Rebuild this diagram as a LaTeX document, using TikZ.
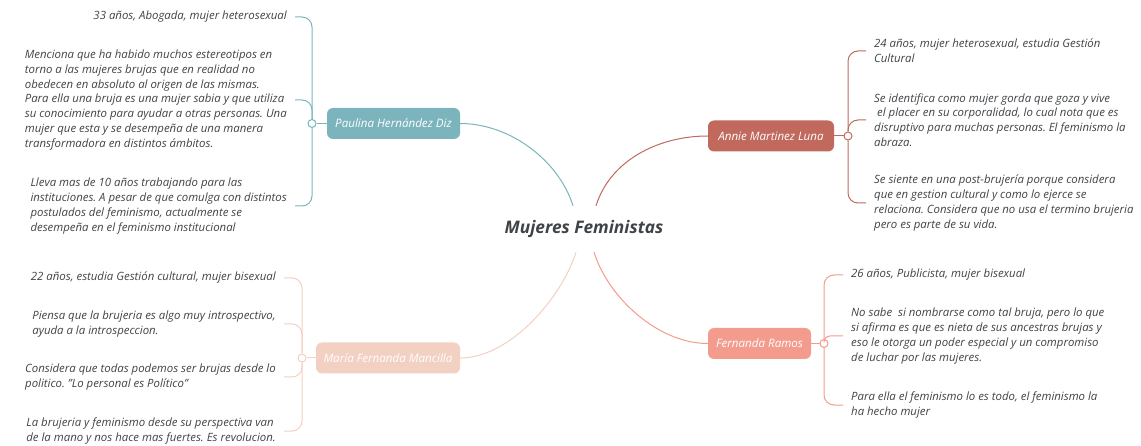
\documentclass[tikz,border=0pt]{standalone}
\usepackage{fontspec}
\setmainfont{Open Sans}
\definecolor{tealtopic}{HTML}{7BB4BD}
\definecolor{bricktopic}{HTML}{C0695C}
\definecolor{peachtopic}{HTML}{F2D0C2}
\definecolor{salmontopic}{HTML}{F39B8C}
\definecolor{ink}{HTML}{3F4347}
\frenchspacing

\begin{document}
\begin{tikzpicture}[x=1pt,y=-1pt,
        topic/.style={rounded corners=6pt, minimum height=31pt, text=white, inner xsep=6pt, font=\itshape\fontsize{11.6}{13}\selectfont},
        knob/.style={circle, draw, fill=white, line width=1pt, inner sep=0pt, minimum size=8pt},
        note/.style={align=left, text=ink, inner xsep=8pt, inner ysep=0pt, font=\itshape\fontsize{11.4}{14.8}\selectfont},
        branch/.style={line width=1pt, rounded corners=10pt}]
            \useasboundingbox (0,0) rectangle (1141,446);

            \node[text=ink, minimum height=46pt, font=\bfseries\itshape\fontsize{17.3}{20}\selectfont] (hub) at (584, 229) {Mujeres Feministas};

            % topics
            \node[topic, fill=tealtopic, minimum width=133pt] (t1) at (393.5, 123.5) {Paulina Hernández Diz};
            \node[topic, fill=peachtopic, minimum width=144pt] (t2) at (388, 358) {María Fernanda Mancilla};
            \node[topic, fill=bricktopic, minimum width=126pt] (t3) at (771, 136) {Annie Martinez Luna};
            \node[topic, fill=salmontopic, minimum width=103pt] (t4) at (759.5, 343.5) {Fernanda Ramos};

            \node[knob, draw=tealtopic] (k1) at (312, 123.5) {};
            \node[knob, draw=peachtopic] (k2) at (302, 358) {};
            \node[knob, draw=bricktopic] (k3) at (848, 136) {};
            \node[knob, draw=salmontopic] (k4) at (824, 343.5) {};

            % notes
            \node[note, anchor=east] (n11) at (295, 17) {33 años, Abogada, mujer heterosexual};
            \node[note, anchor=east] (n12) at (295, 100) {Menciona que ha habido muchos estereotipos en\\torno a las mujeres brujas que en realidad no\\obedecen en absoluto al origen de las mismas.\\Para ella una bruja es una mujer sabia y que utiliza\\su conocimiento para ayudar a otras personas. Una\\mujer que esta y se desempeña de una manera\\transformadora en distintos ámbitos.};
            \node[note, anchor=east] (n13) at (295, 206) {Lleva mas de 10 años trabajando para las\\instituciones. A pesar de que comulga con distintos\\postulados del feminismo, actualmente se\\desempeña en el feminismo institucional};

            \node[note, anchor=east] (n21) at (284, 278) {22 años, estudia Gestión cultural, mujer bisexual};
            \node[note, anchor=east] (n22) at (284, 324) {Piensa que la brujeria es algo muy introspectivo,\\ayuda a la introspeccion.};
            \node[note, anchor=east] (n23) at (284, 377) {Considera que todas podemos ser brujas desde lo\\politico. "Lo personal es Político"};
            \node[note, anchor=east] (n24) at (284, 431) {La brujeria y feminismo desde su perspectiva van\\de la mano y nos hace mas fuertes. Es revolucion.};

            \node[note, anchor=west] (n31) at (866, 51) {24 años, mujer heterosexual, estudia Gestión\\Cultural};
            \node[note, anchor=west] (n32) at (866, 120) {Se identifica como mujer gorda que goza y vive\\\ el placer en su corporalidad, lo cual nota que es\\disruptivo para muchas personas. El feminismo la\\abraza.};
            \node[note, anchor=west] (n33) at (866, 203) {Se siente en una post-brujería porque considera\\que en gestion cultural y como lo ejerce se\\relaciona. Considera que no usa el termino brujeria\\pero es parte de su vida.};

            \node[note, anchor=west] (n41) at (843, 275) {26 años, Publicista, mujer bisexual};
            \node[note, anchor=west] (n42) at (843, 336) {No sabe\ \ si nombrarse como tal bruja, pero lo que\\si afirma es que es nieta de sus ancestras brujas y\\eso le otorga un poder especial y un compromiso\\de luchar por las mujeres.};
            \node[note, anchor=west] (n43) at (843, 405) {Para ella el feminismo lo es todo, el feminismo la\\ha hecho mujer};

            % hub to topics
            \draw[tealtopic, line width=1pt] ([xshift=-11pt]hub.north) .. controls +(-14,-45) and +(50,0) .. (t1.east);
            \draw[peachtopic, line width=1pt] ([xshift=-8pt]hub.south) .. controls +(-14,45) and +(50,0) .. (t2.east);
            \draw[bricktopic, line width=1pt] ([xshift=12pt]hub.north) .. controls +(14,-45) and +(-50,0) .. (t3.west);
            \draw[salmontopic, line width=1pt] ([xshift=10pt]hub.south) .. controls +(14,45) and +(-50,0) .. (t4.west);

            % topics to knobs
            \draw[tealtopic, line width=1pt] (k1) -- (t1);
            \draw[peachtopic, line width=1pt] (k2) -- (t2);
            \draw[bricktopic, line width=1pt] (k3) -- (t3);
            \draw[salmontopic, line width=1pt] (k4) -- (t4);

            % knobs to notes
            \draw[branch, tealtopic] (k1) |- (n11.east);
            \draw[branch, tealtopic] (k1) |- (n12.east);
            \draw[branch, tealtopic] (k1) |- (n13.east);
            \draw[branch, peachtopic] (k2) |- (n21.east);
            \draw[branch, peachtopic] (k2) |- (n22.east);
            \draw[branch, peachtopic] (k2) |- (n23.east);
            \draw[branch, peachtopic] (k2) |- (n24.east);
            \draw[branch, bricktopic] (k3) |- (n31.west);
            \draw[branch, bricktopic] (k3) |- (n32.west);
            \draw[branch, bricktopic] (k3) |- (n33.west);
            \draw[branch, salmontopic] (k4) |- (n41.west);
            \draw[branch, salmontopic, rounded corners=6pt] (k4) |- (n42.west);
            \draw[branch, salmontopic] (k4) |- (n43.west);
        \end{tikzpicture}
\end{document}
